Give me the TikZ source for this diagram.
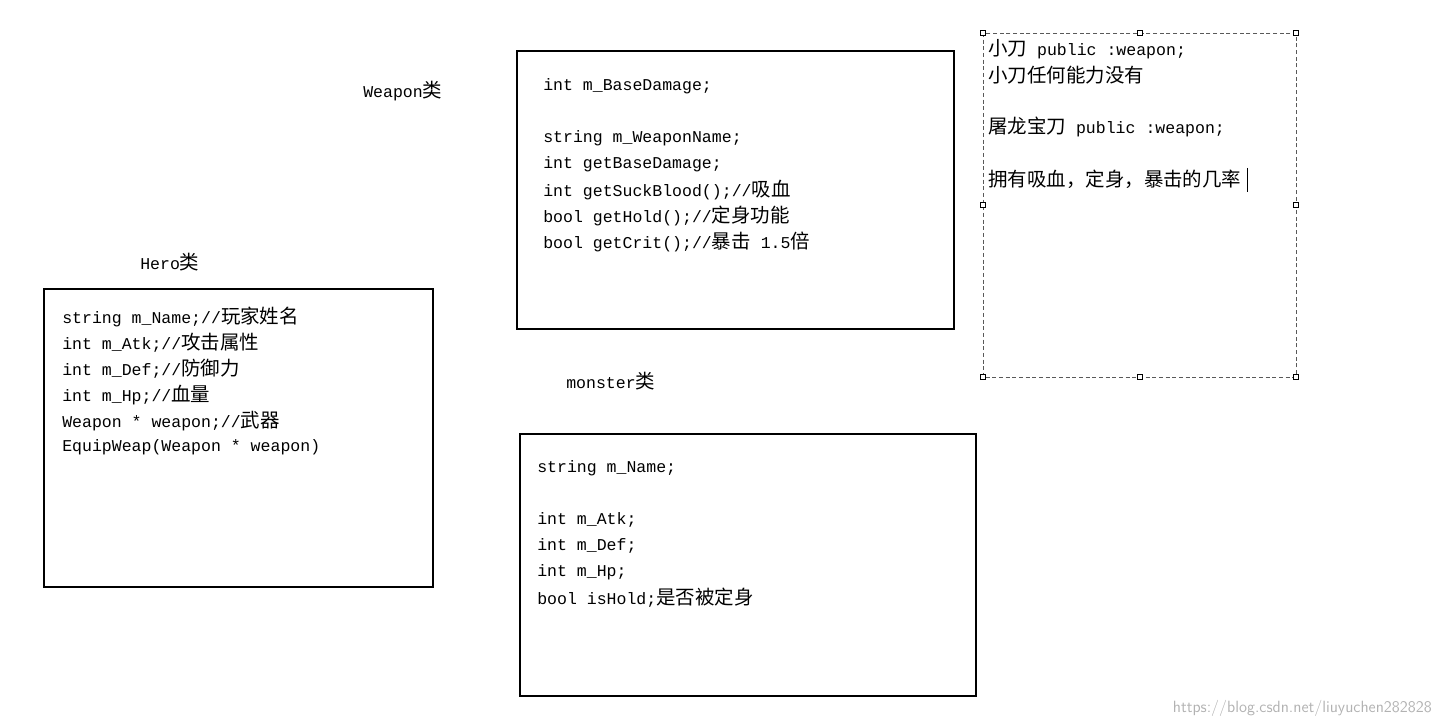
\documentclass[tikz,border=0pt]{standalone}
\usepackage{fontspec}
\setmonofont{Liberation Mono}
\newfontfamily\cjk{Noto Sans CJK SC}
\newcommand{\zh}[1]{{\cjk\fontsize{14.6pt}{16pt}\selectfont #1}}
\begin{document}
\begin{tikzpicture}[x=0.75pt,y=-0.75pt,
  box/.style={draw,line width=2.2pt},
  txt/.style={anchor=west,inner sep=0pt,font=\ttfamily\fontsize{12.4pt}{14pt}\selectfont},
  handle/.style={draw,fill=white,minimum size=4pt,inner sep=0pt,line width=0.3pt}]
\useasboundingbox (0,0) rectangle (1440,727);
% Hero
\node[txt] (herolbl) at (140,262) {Hero\zh{类}};
\draw[box] (44,289) rectangle (433,587);
\node[txt] (h1) at (62,317) {string m\_Name;//\zh{玩家姓名}};
\node[txt] (h2) at (62,343) {int m\_Atk;//\zh{攻击属性}};
\node[txt] (h3) at (62,369) {int m\_Def;//\zh{防御力}};
\node[txt] (h4) at (62,395) {int m\_Hp;//\zh{血量}};
\node[txt] (h5) at (62,421) {Weapon * weapon;//\zh{武器}};
\node[txt] (h6) at (62,447) {EquipWeap(Weapon * weapon)};
% Weapon
\node[txt] (wlbl) at (363,91) {Weapon\zh{类}};
\draw[box] (517,51) rectangle (954,329);
\node[txt] (w1) at (543,86) {int m\_BaseDamage;};
\node[txt] (w2) at (543,138) {string m\_WeaponName;};
\node[txt] (w3) at (543,164) {int getBaseDamage;};
\node[txt] (w4) at (543,190) {int getSuckBlood();//\zh{吸血}};
\node[txt] (w5) at (543,216) {bool getHold();//\zh{定身功能}};
\node[txt] (w6) at (543,242) {bool getCrit();//\zh{暴击} 1.5\zh{倍}};
% Monster
\node[txt] (mlbl) at (566,381) {monster\zh{类}};
\draw[box] (520,434) rectangle (976,696);
\node[txt] (m1) at (537,468) {string m\_Name;};
\node[txt] (m2) at (537,520) {int m\_Atk;};
\node[txt] (m3) at (537,546) {int m\_Def;};
\node[txt] (m4) at (537,572) {int m\_Hp;};
\node[txt] (m5) at (537,598) {bool isHold;\zh{是否被定身}};
% dashed text box
\draw[densely dashed,line width=0.4pt,gray!70!black] (983,33) rectangle (1296,377);
\foreach \p in {(983,33),(1140,33),(1296,33),(983,205),(1296,205),(983,377),(1140,377),(1296,377)}
  \node[handle] at \p {};
\node[txt] (d1) at (988,49) {\zh{小刀} public :weapon;};
\node[txt] (d2) at (988,75) {\zh{小刀任何能力没有}};
\node[txt] (d3) at (988,127) {\zh{屠龙宝刀} public :weapon;};
\node[txt] (d4) at (988,179) {\zh{拥有吸血，定身，暴击的几率}};
\draw[line width=0.6pt] (1247,168) -- (1247,192);
% watermark
\node[anchor=east,inner sep=0pt,text=gray!60,font=\fontsize{12.2pt}{14pt}\sffamily] (wm) at (1432,708) {https://blog.csdn.net/liuyuchen282828};
\end{tikzpicture}
\end{document}
